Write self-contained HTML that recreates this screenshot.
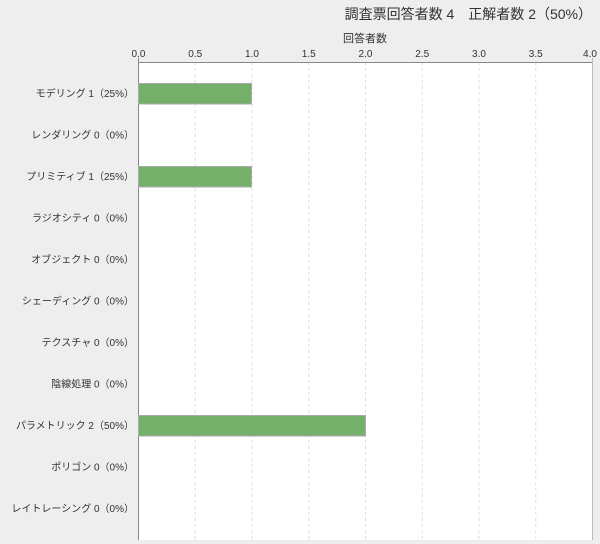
<!DOCTYPE html><html><head><meta charset="utf-8"><style>body{margin:0;background:#eeeeee}svg{display:block}text{font-family:"Liberation Sans","Noto Sans CJK JP",sans-serif;fill:#333}</style></head><body>
<svg width="600" height="544" xmlns="http://www.w3.org/2000/svg">
<rect width="600" height="544" fill="#eeeeee"/>
<text x="592" y="19" font-size="14" text-anchor="end">調査票回答者数 4　正解者数 2（50%）</text>
<text x="365" y="42" font-size="11" text-anchor="middle">回答者数</text>
<rect x="138.5" y="62" width="454" height="478" fill="#fff"/>
<g stroke="#ddd" stroke-dasharray="3,3">
<line x1="195.25" y1="62" x2="195.25" y2="540"/><line x1="252" y1="62" x2="252" y2="540"/><line x1="308.75" y1="62" x2="308.75" y2="540"/><line x1="365.5" y1="62" x2="365.5" y2="540"/><line x1="422.25" y1="62" x2="422.25" y2="540"/><line x1="479" y1="62" x2="479" y2="540"/><line x1="535.75" y1="62" x2="535.75" y2="540"/></g>
<line x1="138" y1="62.5" x2="593" y2="62.5" stroke="#888"/>
<line x1="138.5" y1="58" x2="138.5" y2="540" stroke="#888"/>
<line x1="592.5" y1="58" x2="592.5" y2="540" stroke="#bbb"/>
<g font-size="10" text-anchor="middle">
<text x="138.5" y="57">0.0</text><text x="195.25" y="57">0.5</text><text x="252" y="57">1.0</text><text x="308.75" y="57">1.5</text><text x="365.5" y="57">2.0</text><text x="422.25" y="57">2.5</text><text x="479" y="57">3.0</text><text x="535.75" y="57">3.5</text><text x="590" y="57">4.0</text></g>
<g fill="#74b06a" stroke="#aaa">
<rect x="138.5" y="83.5" width="113" height="20.5"/>
<rect x="138.5" y="166.5" width="113" height="20.5"/>
<rect x="138.5" y="415.5" width="227" height="20.5"/></g>
<g font-size="10" text-anchor="end">
<text x="134" y="97">モデリング 1（25%）</text>
<text x="134" y="138.5">レンダリング 0（0%）</text>
<text x="134" y="180">プリミティブ 1（25%）</text>
<text x="134" y="221.5">ラジオシティ 0（0%）</text>
<text x="134" y="263">オブジェクト 0（0%）</text>
<text x="134" y="304.5">シェーディング 0（0%）</text>
<text x="134" y="346">テクスチャ 0（0%）</text>
<text x="134" y="387.5">陰線処理 0（0%）</text>
<text x="134" y="429">パラメトリック 2（50%）</text>
<text x="134" y="470.5">ポリゴン 0（0%）</text>
<text x="134" y="512">レイトレーシング 0（0%）</text></g>
</svg></body></html>
